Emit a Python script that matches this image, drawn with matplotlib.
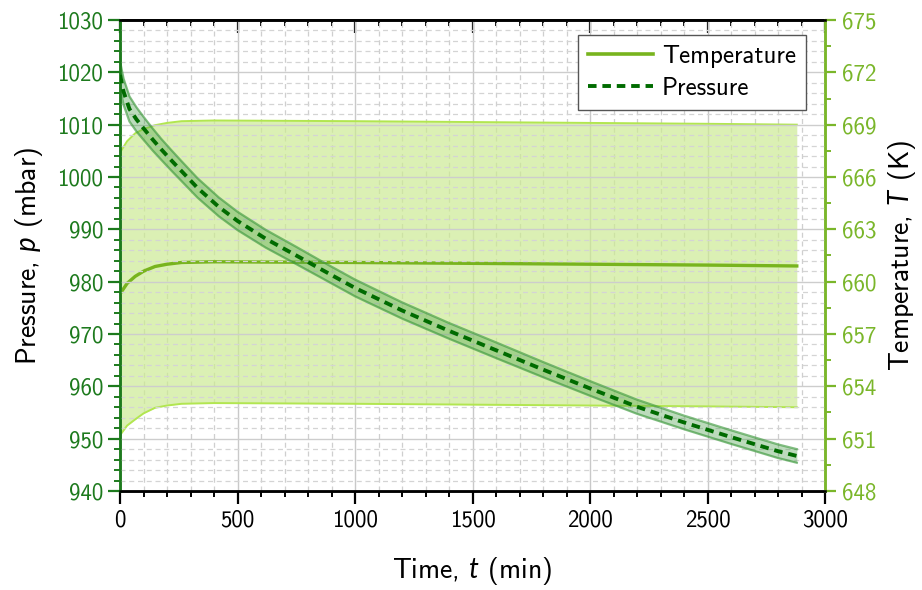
import matplotlib
matplotlib.use("Agg")
import matplotlib.pyplot as plt
from matplotlib.ticker import MultipleLocator
from matplotlib.lines import Line2D

plt.rcParams["font.family"] = ["cmss10", "DejaVu Sans"]
plt.rcParams["mathtext.fontset"] = "custom"
plt.rcParams["mathtext.rm"] = "cmss10"
plt.rcParams["mathtext.it"] = "Lato:italic"
plt.rcParams["axes.unicode_minus"] = False

# Pressure record (mbar) with its spread
p_time = [0, 15, 40, 70, 100, 140, 175, 220, 260, 330, 420, 500, 620, 750, 850,
          1000, 1200, 1400, 1600, 1800, 2000, 2200, 2400, 2600, 2800, 2880]
p_mean = [1019.5, 1016.3, 1013.0, 1011.0, 1009.3, 1007.1, 1005.3, 1003.1, 1001.2,
          997.9, 994.3, 991.6, 988.2, 985.0, 982.5, 978.8, 974.5, 970.6, 966.9,
          963.2, 959.6, 956.1, 953.1, 950.3, 947.6, 946.7]
p_err = [2.6, 2.5, 2.4, 2.3, 2.2, 2.1, 2.0, 1.95, 1.9, 1.85, 1.8, 1.75, 1.7, 1.65,
         1.6, 1.6, 1.55, 1.5, 1.5, 1.45, 1.4, 1.35, 1.3, 1.3, 1.3, 1.3]

# Temperature record (K) with its spread
t_time = [0, 30, 64, 100, 149, 200, 262, 400, 1000, 1500, 2000, 2500, 2880]
t_mean = [659.3, 659.9, 660.3, 660.6, 660.87, 661.0, 661.1, 661.14, 661.1,
          661.05, 661.0, 660.95, 660.9]
t_err = [8.1, 8.15, 8.2, 8.15, 8.1, 8.1, 8.1, 8.1, 8.1, 8.1, 8.1, 8.1, 8.1]

x_ticks = [0, 500, 1000, 1500, 2000, 2500, 3000]
p_ticks = [940, 950, 960, 970, 980, 990, 1000, 1010, 1020, 1030]
t_ticks = [648, 651, 654, 657, 660, 663, 666, 669, 672, 675]

c_temp = "#78b41e"
c_temp_band = "#cdeb94"
c_temp_edge = "#b2e650"
c_press = "#006b00"
c_press_band = "#3f9a3f"
c_left = "#1d7a1d"
c_right = "#7ab62a"

fig = plt.figure(figsize=(9.22, 5.90), dpi=100)
ax_t = fig.add_axes([0.1302, 0.1678, 0.7646, 0.7983])
ax_p = ax_t.twinx()

# Vertical grid on the host axes, underneath the bands
ax_t.set_axisbelow(True)
ax_t.grid(True, axis="x", which="major", color="#c9c9c9", lw=1.0, ls="-")
ax_t.grid(True, axis="x", which="minor", color="#cfcfcf", lw=0.9, ls=(0, (4, 3)))

# Temperature on the host axes
t_lo = [m - e for m, e in zip(t_mean, t_err)]
t_hi = [m + e for m, e in zip(t_mean, t_err)]
ax_t.fill_between(t_time, t_lo, t_hi, color=c_temp_band, alpha=0.7, lw=0, zorder=1)
ax_t.plot(t_time, t_lo, color=c_temp_edge, lw=1.4, zorder=2)
ax_t.plot(t_time, t_hi, color=c_temp_edge, lw=1.4, zorder=2)
ax_t.plot(t_time, t_mean, color=c_temp, lw=2.4, zorder=3)

# Pressure on the twin axes
p_lo = [m - e for m, e in zip(p_mean, p_err)]
p_hi = [m + e for m, e in zip(p_mean, p_err)]
ax_p.fill_between(p_time, p_lo, p_hi, color=c_press_band, alpha=0.35, lw=0, zorder=2)
ax_p.plot(p_time, p_lo, color=c_press_band, lw=1.6, alpha=0.65, zorder=2)
ax_p.plot(p_time, p_hi, color=c_press_band, lw=1.6, alpha=0.65, zorder=2)
ax_p.plot(p_time, p_mean, color=c_press, lw=2.8, ls=(0, (2.2, 1.5)), zorder=4)

# Limits and ticks
ax_t.set_xlim(0, 3000)
ax_t.set_ylim(648, 675)
ax_p.set_ylim(940, 1030)
ax_t.set_xticks(x_ticks)
ax_t.xaxis.set_minor_locator(MultipleLocator(100))
ax_t.set_yticks(t_ticks)
ax_t.yaxis.set_minor_locator(MultipleLocator(1.5))
ax_p.set_yticks(p_ticks)
ax_p.yaxis.set_minor_locator(MultipleLocator(2))

ax_t.yaxis.tick_right()
ax_t.yaxis.set_label_position("right")
ax_p.yaxis.tick_left()
ax_p.yaxis.set_label_position("left")

ax_t.tick_params(axis="x", which="major", direction="out", length=9, width=1.6,
                 top=False, labelsize=16.5, pad=4)
ax_t.tick_params(axis="x", which="minor", direction="out", length=4.5, width=1.4, top=False)

# Inward ticks along the top edge
top = ax_t.secondary_xaxis("top")
top.set_xticks(x_ticks)
top.xaxis.set_minor_locator(MultipleLocator(100))
top.tick_params(axis="x", which="major", direction="in", length=9, width=1.6, labeltop=False)
top.tick_params(axis="x", which="minor", direction="in", length=4.5, width=1.4)
top.spines["top"].set_linewidth(1.8)

ax_t.tick_params(axis="y", which="major", direction="out", length=8, width=1.6,
                 colors=c_right, labelsize=16.5, pad=4)
ax_t.tick_params(axis="y", which="minor", direction="out", length=4, width=1.4, colors=c_right)
ax_p.tick_params(axis="y", which="major", direction="out", length=9, width=1.6,
                 colors=c_left, labelsize=16.5, pad=3)
ax_p.tick_params(axis="y", which="minor", direction="out", length=4.5, width=1.4, colors=c_left)

for ax in (ax_t, ax_p):
    for s in ax.spines.values():
        s.set_linewidth(1.8)
ax_p.spines["left"].set_color(c_left)
ax_p.spines["right"].set_color(c_right)
ax_t.spines["left"].set_color(c_left)
ax_t.spines["right"].set_color(c_right)

# Horizontal grid from the pressure scale
ax_p.grid(True, axis="y", which="major", color="#cdcdcd", lw=1.0, ls="-", zorder=0)
ax_p.grid(True, axis="y", which="minor", color="#d4d4d4", lw=0.9, ls=(0, (4, 3)), zorder=0)
ax_p.set_axisbelow(True)

ax_t.set_xlabel(r"Time, $t$ (min)", fontsize=20, labelpad=17)
ax_p.set_ylabel(r"Pressure, $p$ (mbar)", fontsize=20, labelpad=9)
ax_t.set_ylabel(r"Temperature, $T$ (K)", fontsize=20, labelpad=7)

handles = [Line2D([], [], color=c_temp, lw=2.6),
           Line2D([], [], color=c_press, lw=2.8, ls=(0, (2.2, 1.5)))]
leg = ax_p.legend(handles, ["Temperature", "Pressure"], loc="upper right",
                  bbox_to_anchor=(0.973, 0.968), fontsize=18, frameon=True,
                  fancybox=False, edgecolor="#555555", framealpha=1,
                  handlelength=2.6, handletextpad=0.35, borderpad=0.4,
                  labelspacing=0.35, borderaxespad=0)
leg.get_frame().set_linewidth(1.0)
leg.set_zorder(10)

fig.savefig("out.png", dpi=100)
